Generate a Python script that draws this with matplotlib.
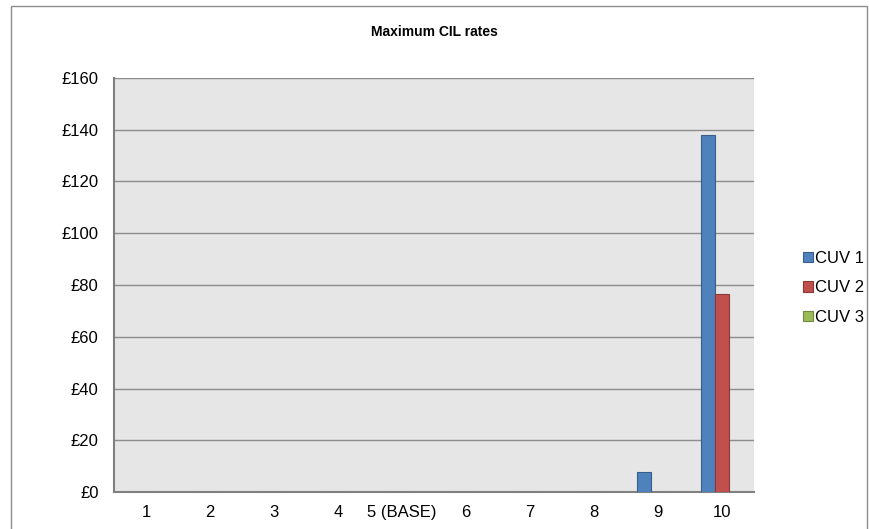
import numpy as np
import matplotlib.pyplot as plt
from matplotlib.patches import Rectangle
from matplotlib.ticker import FuncFormatter

plt.rcParams['font.family'] = ['Liberation Sans', 'DejaVu Sans']

categories = ['1', '2', '3', '4', '5 (BASE)', '6', '7', '8', '9', '10']
cuv1 = [0, 0, 0, 0, 0, 0, 0, 0, 7.6, 138]
cuv2 = [0, 0, 0, 0, 0, 0, 0, 0, 0, 76.5]
cuv3 = [0, 0, 0, 0, 0, 0, 0, 0, 0, 0]
series_names = ['CUV 1', 'CUV 2', 'CUV 3']
colors = ['#4F81BD', '#C0504D', '#9BBB59']
edges = ['#385D8A', '#8C3836', '#71893F']

fig = plt.figure(figsize=(8.69, 5.29), dpi=100)
ax = fig.add_axes([0.1312, 0.0699, 0.7365, 0.7827])

# outer chart frame
fig.patches.append(Rectangle((11 / 869, -0.1), 856 / 869, 1.1 - 6 / 529,
                             transform=fig.transFigure, fill=False,
                             edgecolor='#8C8C8C', linewidth=1.0))

x = np.arange(len(categories))
w = 1 / 4.5
for i, (vals, name) in enumerate(zip([cuv1, cuv2, cuv3], series_names)):
    ax.bar(x + (i - 1) * w, vals, width=w, color=colors[i], edgecolor=edges[i],
           linewidth=0.8, label=name, zorder=3)

ax.set_xlim(-0.5, len(categories) - 0.5)
ax.set_ylim(0, 160)
ax.set_yticks(np.arange(0, 161, 20))
ax.yaxis.set_major_formatter(FuncFormatter(lambda v, p: '£%d' % v))
ax.set_xticks(x)
ax.set_xticklabels(categories)
ax.tick_params(length=0, labelsize=12, colors='#000000')
ax.tick_params(axis='x', pad=9)
ax.tick_params(axis='y', pad=11)

ax.set_facecolor('#E6E6E6')
ax.grid(axis='y', color='#8C8C8C', linewidth=1.0, zorder=0)
ax.set_axisbelow(True)
for side in ['top', 'right']:
    ax.spines[side].set_visible(False)
for side in ['left', 'bottom']:
    ax.spines[side].set_color('#808080')
    ax.spines[side].set_linewidth(1.5)

fig.text(0.5, 1 - 32 / 529, 'Maximum CIL rates', ha='center', va='center',
         fontsize=10, fontweight='bold')

fig.legend(loc='center left', bbox_to_anchor=(803 / 869, 1 - 288 / 529),
           frameon=False, fontsize=12, handlelength=0.6, handleheight=0.6,
           handletextpad=0.1, labelspacing=0.87, borderaxespad=0, borderpad=0)

fig.savefig('out.png', dpi=100)
